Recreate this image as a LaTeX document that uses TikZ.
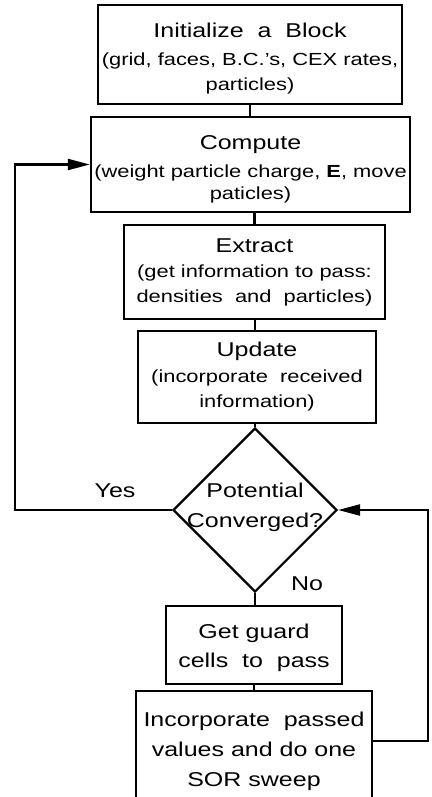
\documentclass[tikz,border=0pt]{standalone}
\usepackage{fontspec}
\setmainfont{Liberation Sans}[FakeStretch=1.25]
\usetikzlibrary{arrows.meta,shapes.geometric,calc}
\newcommand{\titlef}{\fontsize{20}{28}\selectfont}
\newcommand{\subf}{\fontsize{17.5}{25}\selectfont}
\tikzset{
  box/.style={draw,line width=2.4pt,inner sep=0pt,align=center,font=\subf},
  conn/.style={line width=2.2pt},
  arr/.style={line width=2.2pt,-{Triangle[length=22pt,width=11pt]}},
  lbl/.style={font=\titlef,inner sep=0pt}
}
\begin{document}
\begin{tikzpicture}[x=1pt,y=-1pt]
\useasboundingbox (0,0) rectangle (431,797);
\clip (0,0) rectangle (431,797);
\node[box,minimum width=304,minimum height=99] (b1) at (250,54.5)
  {{\titlef\rule{0pt}{23pt}Initialize\ \ a\ \ Block}\\[3pt] (grid, faces, B.C.'s, CEX rates,\\ particles)};
\node[box,minimum width=319,minimum height=95] (b2) at (250.5,164.5)
  {{\titlef\rule{0pt}{23pt}Compute}\\[3pt] (weight particle charge, \textbf{E}, move\\[-3pt] paticles)};
\node[box,minimum width=261,minimum height=94] (b3) at (254.5,272)
  {{\titlef Extract}\\[0pt] (get information to pass:\\ densities\ \ and\ \ particles)};
\node[box,minimum width=238,minimum height=92] (b4) at (257,377)
  {{\titlef Update}\\[1pt] (incorporate\ \ received\\ information)};
\node[draw,line width=2.2pt,shape=diamond,minimum width=164,minimum height=164,inner sep=0pt] (dec) at (255,510) {};
\node[lbl,align=center,font=\fontsize{20}{30}\selectfont] (dect) at (255,507) {Potential\\Converged?};
\node[box,font=\fontsize{20}{29}\selectfont,minimum width=176,minimum height=78] (b5) at (254,645)
  {\rule{0pt}{20pt}Get guard\\ cells\ \ to\ \ pass};
\node[box,font=\fontsize{20}{30}\selectfont,minimum width=236,minimum height=120] (b6) at (254,751)
  {Incorporate\ \ passed\\ values and do one\\ SOR sweep};
\node[lbl] (yes) at (115,491) {Yes};
\node[lbl] (no) at (307,584) {No};
\coordinate (lc) at (15,510);
\coordinate (rc) at (428,510);
\draw[conn] (b1.south) -- (b1.south |- b2.north);
\draw[conn] (b3.north) -- (b3.north |- b2.south);
\draw[conn] (b4.north -| 255,0) -- (b3.south -| 255,0);
\draw[conn] (b4.south -| dec.north) -- (dec.north);
\draw[conn] (dec.south) -- (dec.south |- b5.north);
\draw[conn] (b5.south) -- (b5.south |- b6.north);
\draw[arr] (dec.west) -- (lc) |- (b2.west);
\draw[arr] ($(b6.north east)+(0,51)$) -| (rc) -- (dec.east);
\end{tikzpicture}
\end{document}
